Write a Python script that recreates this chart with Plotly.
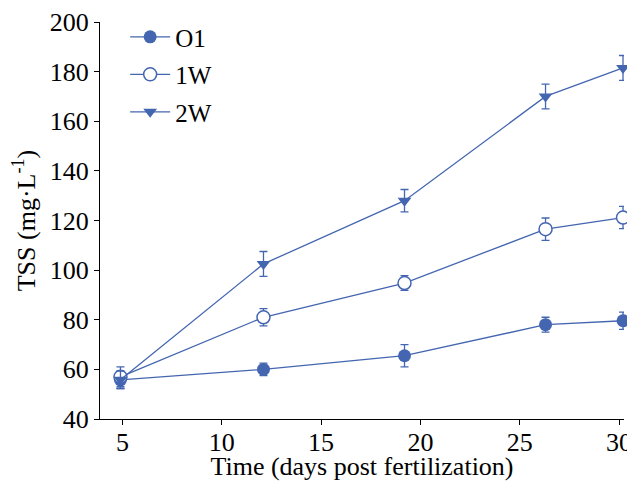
import plotly.graph_objects as go

days = [4.9, 12.1, 19.2, 26.3, 30.2]
o1 = [55.8, 60.0, 65.5, 78.0, 79.6]
o1_err = [3.5, 2.5, 4.5, 3.0, 3.5]
w1 = [57.0, 81.0, 94.8, 116.5, 121.2]
w1_err = [4.0, 3.5, 3.0, 4.5, 4.5]
w2 = [55.8, 102.5, 128.0, 170.0, 181.5]
w2_err = [3.5, 5.0, 4.5, 5.0, 5.0]
names = ["O1", "1W", "2W"]
xticks = [5, 10, 15, 20, 25, 30]
yticks = [40, 60, 80, 100, 120, 140, 160, 180, 200]

color = "#4466B0"
font = "Liberation Serif"
fs = 26

fig = go.Figure()
series = [
    (o1, o1_err, dict(symbol="circle", size=13, color=color)),
    (w1, w1_err, dict(symbol="circle", size=13, color="white", line=dict(color=color, width=1.5))),
    (w2, w2_err, dict(symbol="triangle-down", size=12, color=color)),
]
for name, (vals, errs, mk) in zip(names, series):
    fig.add_trace(go.Scatter(
        x=days, y=vals, name=name, mode="lines+markers", legendgroup=name,
        line=dict(color=color, width=1.3),
        marker=mk,
        error_y=dict(type="data", array=errs, color=color, thickness=1.3, width=4),
        cliponaxis=False,
    ))

# page body has an 8px default margin, so the figure is 8px smaller
fig.update_layout(
    width=627, height=473,
    margin=dict(l=92, r=11, t=14, b=62, autoexpand=False),
    paper_bgcolor="white", plot_bgcolor="white",
    font=dict(family=font, size=fs, color="black"),
    showlegend=True,
    legend=dict(x=0.048, y=1.02, xanchor="left", yanchor="top",
                bgcolor="rgba(0,0,0,0)", font=dict(family=font, size=25),
                traceorder="grouped", tracegroupgap=2, itemwidth=40),
)
fig.update_xaxes(
    range=[3.87, 30.25], tickvals=xticks,
    showline=True, linecolor="black", linewidth=1.3,
    ticks="outside", ticklen=5, tickwidth=1.3, tickcolor="black",
    ticklabelstandoff=-5,
    tickfont=dict(family=font, size=fs, color="black"),
    showgrid=False, zeroline=False, automargin=True,
    title=dict(text="Time (days post fertilization)", standoff=0,
               font=dict(family=font, size=fs, color="black")),
)
fig.update_yaxes(
    range=[40, 200], tickvals=yticks,
    showline=True, linecolor="black", linewidth=1.3,
    ticks="outside", ticklen=5, tickwidth=1.3, tickcolor="black",
    tickfont=dict(family=font, size=fs, color="black"),
    showgrid=False, zeroline=False, automargin=False,
    title=dict(text="TSS (mg·L<sup>-1</sup>)", standoff=11,
               font=dict(family=font, size=fs, color="black")),
)
fig.write_html("out.html")
